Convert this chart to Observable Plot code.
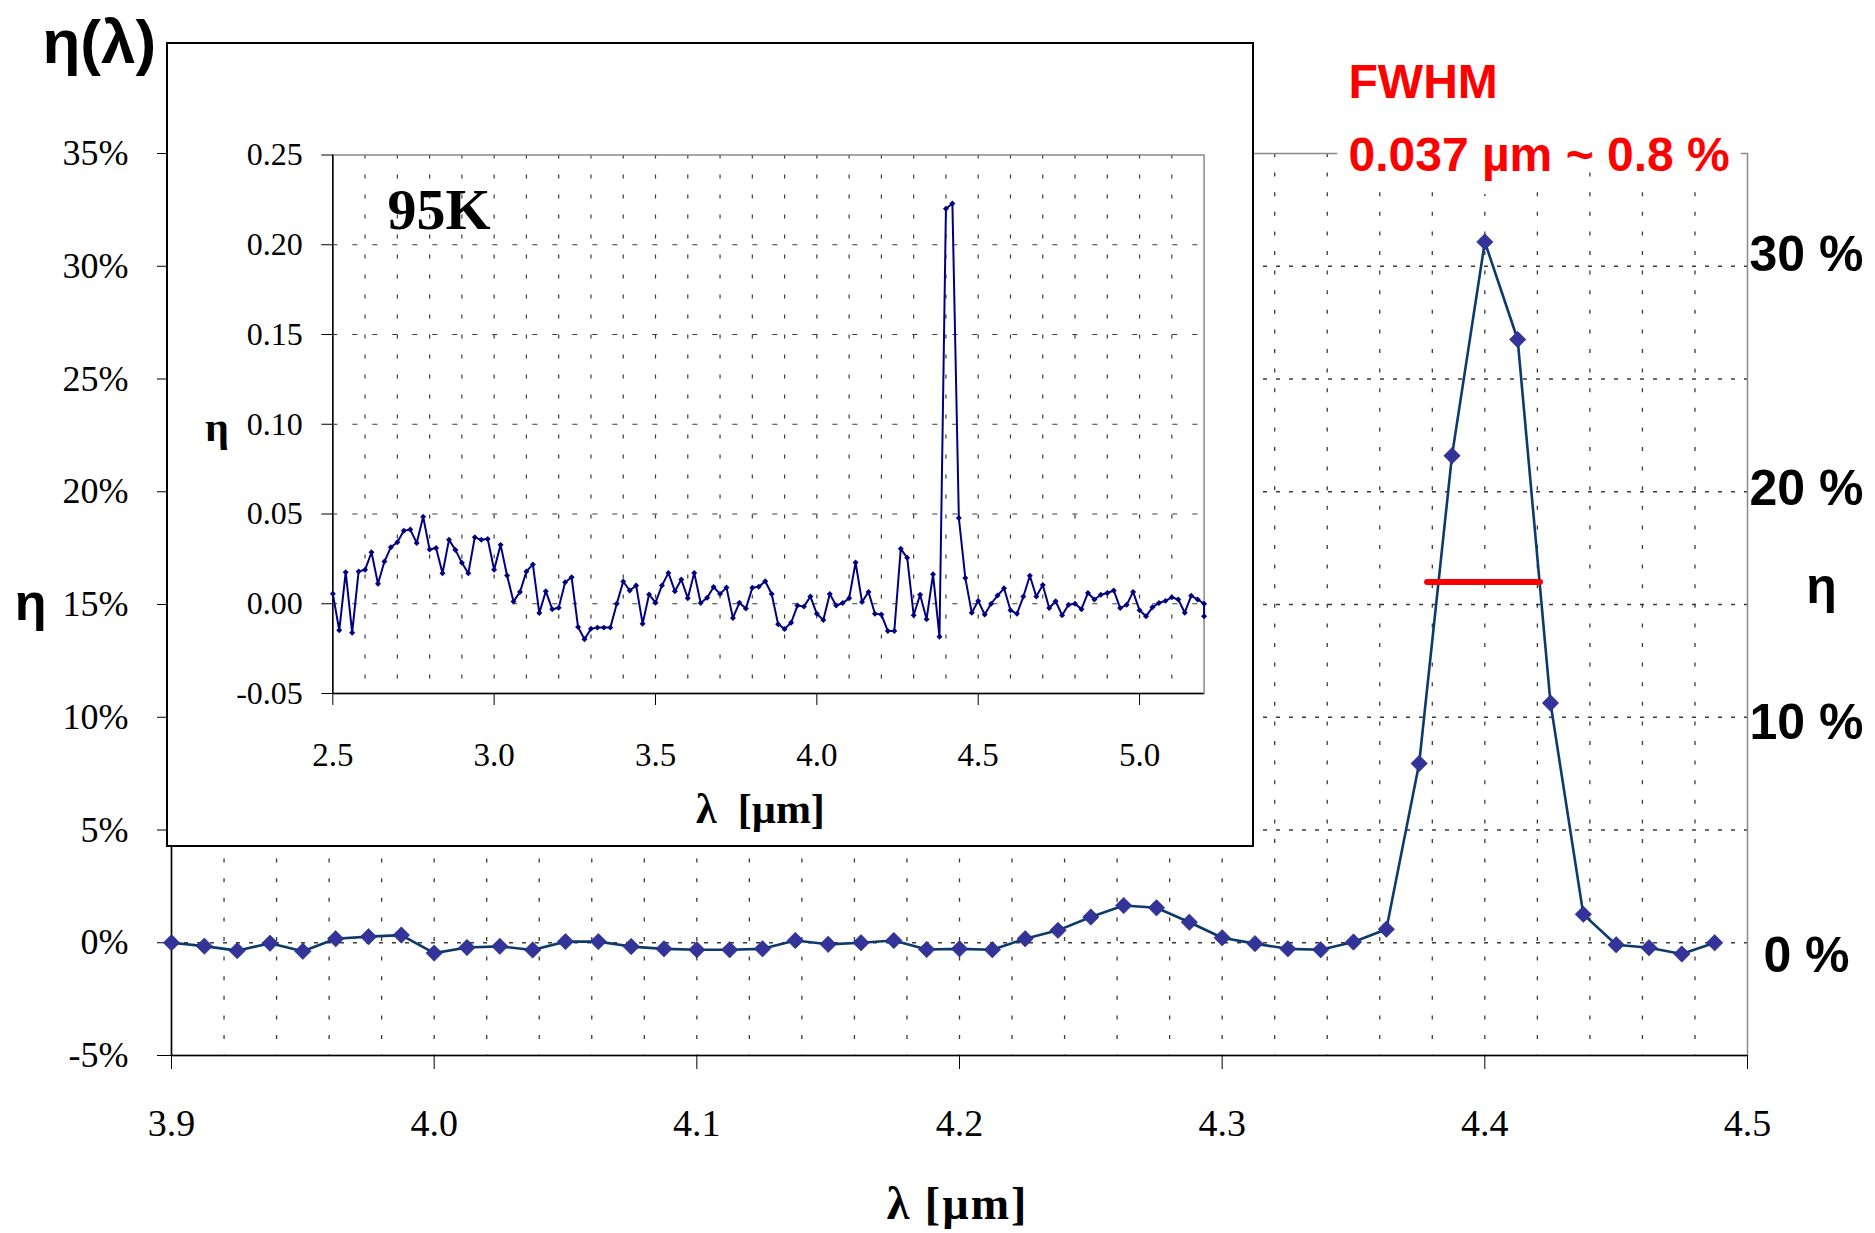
<!DOCTYPE html>
<html><head><meta charset="utf-8">
<script src="https://cdn.jsdelivr.net/npm/d3@7"></script>
<script src="https://cdn.jsdelivr.net/npm/@observablehq/plot@0.6"></script>
<style>
html,body{margin:0;padding:0;background:#fff;}
#wrap{position:relative;width:1875px;height:1233px;overflow:hidden;background:#fff;}
#main{position:absolute;left:0;top:0;}
#insetBox{position:absolute;left:166px;top:42px;width:1088px;height:805px;border:2px solid #000;box-sizing:border-box;background:#fff;}
#inset{position:absolute;left:168px;top:44px;}
</style></head>
<body><div id="wrap"><div id="main"></div><div id="insetBox"></div><div id="inset"></div></div>
<script>
// ---------- main chart data (η in %) ----------
const mainLambda = [3.9, 3.9125, 3.925, 3.9375, 3.95, 3.9625, 3.975, 3.9875, 4.0, 4.0125, 4.025, 4.0375, 4.05, 4.0625, 4.075, 4.0875, 4.1, 4.1125, 4.125, 4.1375, 4.15, 4.1625, 4.175, 4.1875, 4.2, 4.2125, 4.225, 4.2375, 4.25, 4.2625, 4.275, 4.2875, 4.3, 4.3125, 4.325, 4.3375, 4.35, 4.3625, 4.375, 4.3875, 4.4, 4.4125, 4.425, 4.4375, 4.45, 4.4625, 4.475, 4.4875];
const mainEta = [0.0, -0.15, -0.35, -0.02, -0.38, 0.18, 0.27, 0.34, -0.46, -0.21, -0.16, -0.32, 0.05, 0.05, -0.17, -0.27, -0.31, -0.31, -0.27, 0.10, -0.07, 0.0, 0.10, -0.30, -0.27, -0.31, 0.18, 0.55, 1.14, 1.65, 1.55, 0.91, 0.22, -0.04, -0.27, -0.31, 0.03, 0.60, 7.95, 21.6, 31.08, 26.75, 10.63, 1.26, -0.09, -0.22, -0.50, 0.0];
const mainXTicks = [3.9, 4.0, 4.1, 4.2, 4.3, 4.4, 4.5];
const mainYTicks = [-5, 0, 5, 10, 15, 20, 25, 30, 35];
const mainGridY = [0, 5, 10, 15, 20, 25, 30];
// secondary (right) axis labels and their mapping onto the left axis
const rightTicks = [30, 20, 10, 0];
const rightAxisDomain = [0, 30];
const rightAxisOnLeft = [-0.6, 30.5];
const fwhm = [{x1: 4.378, x2: 4.421, y: 16.0}];
const fwhmLabels = ["FWHM", "0.037 µm ~ 0.8 %"];

// ---------- inset data (η fraction) ----------
const insetLambda = [2.50, 2.52, 2.54, 2.56, 2.58, 2.60, 2.62, 2.64, 2.66, 2.68, 2.70, 2.72, 2.74, 2.76, 2.78, 2.80, 2.82, 2.84, 2.86, 2.88, 2.90, 2.92, 2.94, 2.96, 2.98,
  3.00, 3.02, 3.04, 3.06, 3.08, 3.10, 3.12, 3.14, 3.16, 3.18, 3.20, 3.22, 3.24, 3.26, 3.28, 3.30, 3.32, 3.34, 3.36, 3.38, 3.40, 3.42, 3.44, 3.46, 3.48,
  3.50, 3.52, 3.54, 3.56, 3.58, 3.60, 3.62, 3.64, 3.66, 3.68, 3.70, 3.72, 3.74, 3.76, 3.78, 3.80, 3.82, 3.84, 3.86, 3.88, 3.90, 3.92, 3.94, 3.96, 3.98,
  4.00, 4.02, 4.04, 4.06, 4.08, 4.10, 4.12, 4.14, 4.16, 4.18, 4.20, 4.22, 4.24, 4.26, 4.28, 4.30, 4.32, 4.34, 4.36, 4.38, 4.40, 4.42, 4.44, 4.46, 4.48,
  4.50, 4.52, 4.54, 4.56, 4.58, 4.60, 4.62, 4.64, 4.66, 4.68, 4.70, 4.72, 4.74, 4.76, 4.78, 4.80, 4.82, 4.84, 4.86, 4.88, 4.90, 4.92, 4.94, 4.96, 4.98,
  5.00, 5.02, 5.04, 5.06, 5.08, 5.10, 5.12, 5.14, 5.16, 5.18, 5.20, 5.20];
const insetEta = [0.0056, -0.0148, 0.0176, -0.0161, 0.0180, 0.0189, 0.0287, 0.0111, 0.0235, 0.0315, 0.0343, 0.0407, 0.0413, 0.0339, 0.0485, 0.0302, 0.0311, 0.0170, 0.0356, 0.0300, 0.0228, 0.0170, 0.0370, 0.0356, 0.0361,
  0.0189, 0.0328, 0.0157, 0.0013, 0.0065, 0.0180, 0.0219, -0.0052, 0.0070, -0.0031, -0.0022, 0.0120, 0.0148, -0.0130, -0.0198, -0.0139, -0.0133, -0.0133, -0.0133, 0.0000, 0.0124, 0.0074, 0.0102, -0.0111, 0.0052,
  0.0006, 0.0102, 0.0172, 0.0070, 0.0135, 0.0031, 0.0172, 0.0004, 0.0033, 0.0093, 0.0055, 0.0090, -0.0079, 0.0006, -0.0027, 0.0089, 0.0095, 0.0125, 0.0054, -0.0114, -0.0140, -0.0106, -0.0010, -0.0016, 0.0040,
  -0.0056, -0.0090, 0.0054, -0.0010, 0.0004, 0.0030, 0.0230, 0.0010, 0.0066, -0.0056, -0.0060, -0.0152, -0.0152, 0.0306, 0.0256, -0.0064, 0.0050, -0.0086, 0.0164, -0.0184, 0.2200, 0.2230, 0.0478, 0.0144, -0.0050,
  0.0016, -0.0060, 0.0000, 0.0046, 0.0086, -0.0036, -0.0056, 0.0040, 0.0156, 0.0040, 0.0104, -0.0024, 0.0014, -0.0064, -0.0006, 0.0000, -0.0030, 0.0060, 0.0024, 0.0050, 0.0060, 0.0074, -0.0024, -0.0006, 0.0066,
  -0.0036, -0.0070, -0.0020, 0.0004, 0.0016, 0.0036, 0.0024, -0.0050, 0.0044, 0.0024, 0.0000, -0.0070];
const insetXTicks = [2.5, 3.0, 3.5, 4.0, 4.5, 5.0];
const insetYTicks = [-0.05, 0.00, 0.05, 0.10, 0.15, 0.20, 0.25];
const insetGridY = [0.00, 0.05, 0.10, 0.15, 0.20];

const mainData = mainLambda.map((x, i) => ({x, y: mainEta[i]}));
const insetData = insetLambda.map((x, i) => ({x, y: insetEta[i]}));
const mainGridX = d3.range(1, 30).map(i => +(3.9 + 0.02 * i).toFixed(2));
const insetGridX = d3.range(1, 27).map(i => +(2.5 + 0.1 * i).toFixed(1));
const rightScale = d3.scaleLinear().domain(rightAxisDomain).range(rightAxisOnLeft);

const SERIF = "Liberation Serif";
const SANS = "Liberation Sans";
const TICKFONT = "'Liberation Serif', 'DejaVu Serif Condensed', 'DejaVu Serif', serif";

// tick labels: plain (non-bold) serif face
function serifTicks(svg) {
  svg.setAttribute("font-family", TICKFONT);
  svg.style.fontFamily = TICKFONT;
  svg.querySelectorAll('g[aria-label$="tick label"]').forEach(g => {
    g.setAttribute("font-family", TICKFONT);
    g.style.fontFamily = TICKFONT;
    g.querySelectorAll("text").forEach(t => {
      t.setAttribute("font-family", TICKFONT);
      t.style.setProperty("font-family", TICKFONT, "important");
      t.style.setProperty("font-variant", "normal");
      t.removeAttribute("font-variant");
    });
  });
  svg.querySelectorAll("[font-variant]").forEach(el => el.removeAttribute("font-variant"));
}

const main = Plot.plot({
  width: 1875, height: 1233,
  marginLeft: 171, marginRight: 128, marginTop: 153, marginBottom: 178,
  x: {domain: [3.9, 4.5]},
  y: {domain: [-5, 35]},
  style: {background: "transparent", color: "black"},
  marks: [
    Plot.ruleY(mainGridY, {stroke: "#3a3a3a", strokeWidth: 1.3, strokeDasharray: "4,9"}),
    Plot.ruleX(mainGridX, {stroke: "#3a3a3a", strokeWidth: 1.3, strokeDasharray: "4,15.6"}),
    Plot.frame({stroke: "#8a8a8a", strokeWidth: 1.5}),
    Plot.ruleX([3.9], {stroke: "black", strokeWidth: 1.5}),
    Plot.ruleY([-5], {stroke: "black", strokeWidth: 1.5}),
    Plot.axisX({ticks: mainXTicks, tickFormat: d => d.toFixed(1), tickSize: 14, tickPadding: 40, fontSize: 38, label: null}),
    Plot.axisY({ticks: mainYTicks, tickFormat: d => `${d}%`, tickSize: 14, tickPadding: 29, fontSize: 36, label: null}),
    Plot.line(mainData, {x: "x", y: "y", stroke: "#0b3a6b", strokeWidth: 2.6}),
    Plot.dot(mainData, {x: "x", y: "y", symbol: "diamond2", r: 7.4, fill: "#333399", stroke: "#222a80", strokeWidth: 0.6}),
    Plot.link(fwhm, {x1: "x1", x2: "x2", y1: "y", y2: "y", stroke: "#ff0000", strokeWidth: 6, strokeLinecap: "round"}),
    Plot.text(rightTicks, {y: d => rightScale(d), frameAnchor: "right", dx: 59, text: d => `${d} %`, textAnchor: "middle", lineAnchor: "middle", fontFamily: SANS, fontWeight: "bold", fontSize: 50, fill: "black"}),
    Plot.text([fwhmLabels[0]], {frameAnchor: "top-left", dx: 1348 - 171, dy: 97 - 153, textAnchor: "start", lineAnchor: "bottom", fontFamily: SANS, fontWeight: "bold", fontSize: 48, fill: "#ff0000"}),
    Plot.text([fwhmLabels[1]], {frameAnchor: "top-left", dx: 1348 - 171, dy: 170 - 153, textAnchor: "start", lineAnchor: "bottom", fontFamily: SANS, fontWeight: "bold", fontSize: 48, fill: "#ff0000", stroke: "white", strokeWidth: 26, strokeLinejoin: "round"}),
    Plot.text(["η(λ)"], {frameAnchor: "top-left", dx: 42 - 171, dy: 62 - 153, textAnchor: "start", lineAnchor: "bottom", fontFamily: SANS, fontWeight: "bold", fontSize: 62, fill: "black"}),
    Plot.text(["η"], {frameAnchor: "top-left", dx: 30 - 171, dy: 619 - 153, textAnchor: "middle", lineAnchor: "bottom", fontFamily: SANS, fontWeight: "bold", fontSize: 52, fill: "black"}),
    Plot.text(["η"], {frameAnchor: "top-right", dx: 1821 - 1747, dy: 602 - 153, textAnchor: "middle", lineAnchor: "bottom", fontFamily: SANS, fontWeight: "bold", fontSize: 50, fill: "black"}),
    Plot.text(["λ [µm]"], {frameAnchor: "bottom", dx: -2, dy: 1218 - 1055, textAnchor: "middle", lineAnchor: "bottom", fontFamily: SERIF, fontWeight: "bold", fontSize: 46, fill: "black"})
  ]
});
serifTicks(main);
main.querySelectorAll("text").forEach(t => { if (t.textContent === "λ [µm]") t.style.letterSpacing = "2px"; });
document.getElementById("main").appendChild(main);

const inset = Plot.plot({
  width: 1084, height: 801,
  marginLeft: 164.3, marginRight: 48.4, marginTop: 110.5, marginBottom: 152,
  x: {domain: [2.5, 5.2]},
  y: {domain: [-0.05, 0.25]},
  style: {background: "transparent", color: "black"},
  marks: [
    Plot.ruleY(insetGridY, {stroke: "#3a3a3a", strokeWidth: 1.2, strokeDasharray: "5,15"}),
    Plot.ruleX(insetGridX, {stroke: "#3a3a3a", strokeWidth: 1.2, strokeDasharray: "4,16"}),
    Plot.frame({stroke: "#8a8a8a", strokeWidth: 1.5}),
    Plot.ruleX([2.5], {stroke: "black", strokeWidth: 1.5}),
    Plot.ruleY([-0.05], {stroke: "black", strokeWidth: 1.5}),
    Plot.axisX({ticks: insetXTicks, tickFormat: d => d.toFixed(1), tickSize: 12, tickPadding: 37, fontSize: 33, label: null}),
    Plot.axisY({ticks: insetYTicks, tickFormat: d => d.toFixed(2), tickSize: 11, tickPadding: 19, fontSize: 32, label: null}),
    Plot.line(insetData, {x: "x", y: "y", stroke: "#000080", strokeWidth: 2}),
    Plot.dot(insetData, {x: "x", y: "y", symbol: "diamond2", r: 2.7, fill: "#000080"}),
    Plot.text(["95K"], {frameAnchor: "top-left", dx: 54.7, dy: 73.5, textAnchor: "start", lineAnchor: "bottom", fontFamily: SERIF, fontWeight: "bold", fontSize: 58, fill: "black"}),
    Plot.text(["η"], {frameAnchor: "top-left", dx: -116, dy: 285.5, textAnchor: "middle", lineAnchor: "bottom", fontFamily: SERIF, fontWeight: "bold", fontSize: 42, fill: "black"}),
    Plot.text(["λ  [µm]"], {frameAnchor: "bottom", dx: -8, dy: 129, textAnchor: "middle", lineAnchor: "bottom", fontFamily: SERIF, fontWeight: "bold", fontSize: 42, fill: "black"})
  ]
});
serifTicks(inset);
inset.querySelectorAll("text").forEach(t => t.setAttribute("xml:space", "preserve"));
document.getElementById("inset").appendChild(inset);
</script>
</body></html>
